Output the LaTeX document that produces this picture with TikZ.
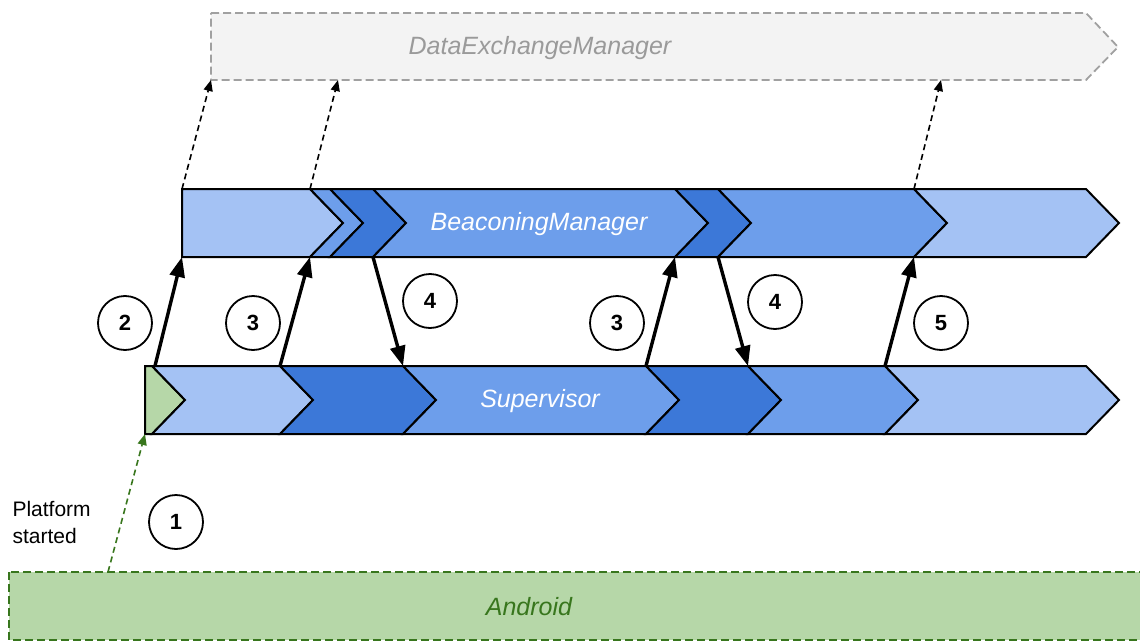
\documentclass[tikz,border=0pt]{standalone}
\usepackage{fontspec}
\setmainfont{Liberation Sans}
\usetikzlibrary{arrows.meta}
\definecolor{lightblue}{HTML}{A4C2F4}
\definecolor{midblue}{HTML}{6D9EEB}
\definecolor{darkblue}{HTML}{3C78D8}
\definecolor{lightgreen}{HTML}{B6D7A8}
\definecolor{darkgreen}{HTML}{38761D}
\definecolor{dxfill}{HTML}{F3F3F3}
\definecolor{dxline}{HTML}{A0A0A0}
\definecolor{dxtext}{HTML}{9A9A9A}
% chevron segment of a lane: #1 fill, #2 left x, #3 right x, #4 top y
\newcommand\chevseg[4]{%
  \draw[segline,fill=#1] (#2,#4) -- (#3,#4) -- ({#3+33},{#4+34}) -- (#3,{#4+68})
    -- (#2,{#4+68}) -- ({#2+33},{#4+34}) -- cycle;}
% first segment of a lane, with a straight left edge
\newcommand\chevfirst[4]{%
  \draw[segline,fill=#1] (#2,#4) -- (#3,#4) -- ({#3+33},{#4+34}) -- (#3,{#4+68})
    -- (#2,{#4+68}) -- cycle;}
\tikzset{
  segline/.style={draw=black,line width=2pt,line join=miter},
  lanefont/.style={font=\itshape\fontsize{25}{28}\selectfont},
  lanetext/.style={lanefont,text=white},
  stepnum/.style={circle,draw=black,line width=1.8pt,minimum size=54pt,inner sep=0pt,
    font=\bfseries\fontsize{22}{26}\selectfont},
  callarrow/.style={line width=3.4pt,-{Triangle[length=20pt,width=15pt]}},
  notearrow/.style={line width=1.6pt,dash pattern=on 6pt off 4pt,
    -{Triangle[length=11pt,width=9pt]}},
}
\begin{document}
\begin{tikzpicture}[x=1pt,y=-1pt]
\useasboundingbox (0,0) rectangle (1140,642);
\clip (0,0) rectangle (1140,642);

% DataExchangeManager lane
\draw[dxline,line width=1.8pt,dash pattern=on 8pt off 4pt,fill=dxfill]
  (211,13) -- (1086,13) -- (1118,47) -- (1086,80) -- (211,80) -- cycle;
\node[lanefont,text=dxtext] (dxm) at (540,48) {DataExchangeManager};

% Android platform bar
\draw[darkgreen,line width=1.8pt,dash pattern=on 8pt off 4pt,fill=lightgreen]
  (9,572) rectangle (1170,640);
\node[lanefont,text=darkgreen] (android) at (529,607) {Android};

% BeaconingManager lane
\chevfirst{lightblue}{182}{310}{189}
\chevseg{midblue}{310}{330}{189}
\chevseg{darkblue}{330}{373}{189}
\chevseg{midblue}{373}{675}{189}
\chevseg{darkblue}{675}{718}{189}
\chevseg{midblue}{718}{914}{189}
\chevseg{lightblue}{914}{1086}{189}
\node[lanetext] (bm) at (539,224) {BeaconingManager};

% Supervisor lane
\chevfirst{lightgreen}{145}{152}{366}
\chevseg{lightblue}{152}{280}{366}
\chevseg{darkblue}{280}{403}{366}
\chevseg{midblue}{403}{646}{366}
\chevseg{darkblue}{646}{748}{366}
\chevseg{midblue}{748}{885}{366}
\chevseg{lightblue}{885}{1086}{366}
\node[lanetext] (sup) at (540,401) {Supervisor};

% connection points on the lanes
\coordinate (dxA) at (211,80);
\coordinate (dxB) at (338,80);
\coordinate (dxC) at (941,80);
\coordinate (bmA) at (182,189);
\coordinate (bmB) at (310,189);
\coordinate (bmC) at (914,189);
\coordinate (bm1) at (182,257);
\coordinate (bm2) at (310,257);
\coordinate (bm3) at (373,257);
\coordinate (bm4) at (675,257);
\coordinate (bm5) at (718,257);
\coordinate (bm6) at (914,257);
\coordinate (su0) at (145,434);
\coordinate (su1) at (155,366);
\coordinate (su2) at (280,366);
\coordinate (su3) at (403,366);
\coordinate (su4) at (646,366);
\coordinate (su5) at (748,366);
\coordinate (su6) at (885,366);
\coordinate (an0) at (108,572);

% calls between the lanes
\draw[callarrow] (su1) -- (bm1);
\draw[callarrow] (su2) -- (bm2);
\draw[callarrow] (bm3) -- (su3);
\draw[callarrow] (su4) -- (bm4);
\draw[callarrow] (bm5) -- (su5);
\draw[callarrow] (su6) -- (bm6);

% notifications to DataExchangeManager
\draw[notearrow] (bmA) -- (dxA);
\draw[notearrow] (bmB) -- (dxB);
\draw[notearrow] (bmC) -- (dxC);

% platform start
\draw[notearrow,darkgreen] (an0) -- (su0);
\node[align=left,anchor=west,font=\fontsize{21}{27}\selectfont] (ps) at (9,522) {Platform\\started};

% step numbers
\node[stepnum] (n1) at (176,522) {1};
\node[stepnum] (n2) at (125,323) {2};
\node[stepnum] (n3a) at (253,323) {3};
\node[stepnum] (n4a) at (430,301) {4};
\node[stepnum] (n3b) at (617,323) {3};
\node[stepnum] (n4b) at (775,302) {4};
\node[stepnum] (n5) at (941,323) {5};
\end{tikzpicture}
\end{document}
